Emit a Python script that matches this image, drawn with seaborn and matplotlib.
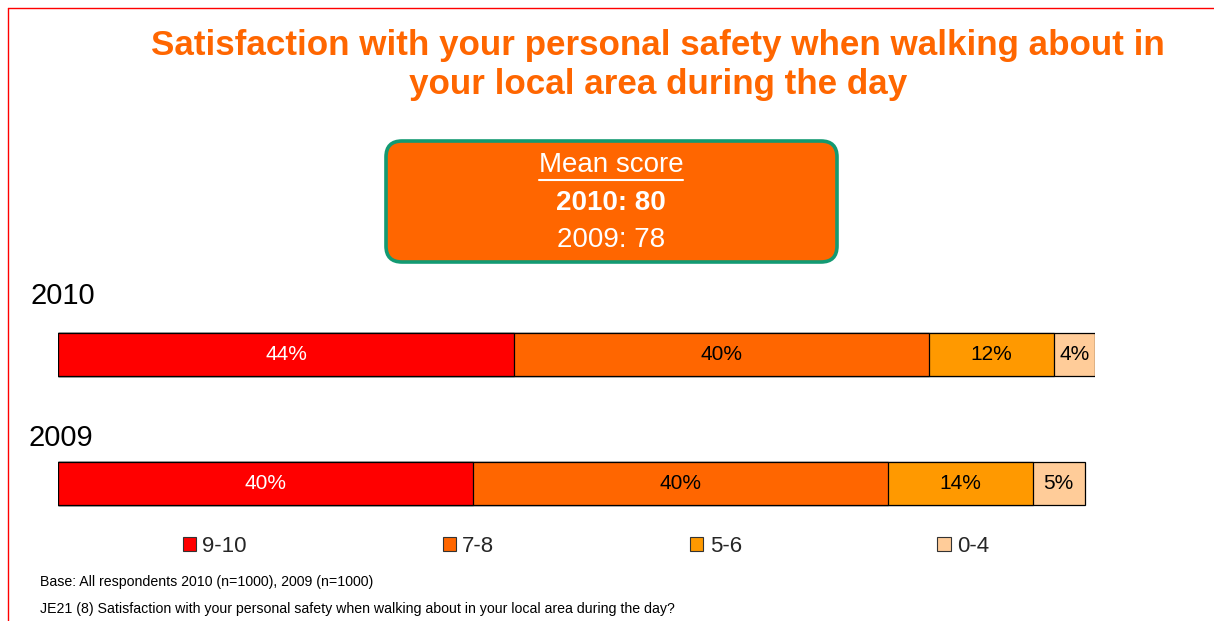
import numpy as np
import pandas as pd
import matplotlib
matplotlib.use('Agg')
import matplotlib.pyplot as plt
from matplotlib.patches import FancyBboxPatch, Rectangle
from matplotlib.lines import Line2D
import seaborn as sns

# datos del grafico
years = ['2010', '2009']
score_bands = ['9-10', '7-8', '5-6', '0-4']
pct_9_10 = [44, 40]
pct_7_8 = [40, 40]
pct_5_6 = [12, 14]
pct_0_4 = [4, 5]
mean_2010 = 80
mean_2009 = 78

band_colors = ['#FF0000', '#FF6600', '#FF9900', '#FFCC99']
label_colors = ['white', 'black', 'black', 'black']
orange = '#FF6600'

sns.set_theme(style='white')
plt.rcParams['font.family'] = ['Liberation Sans', 'DejaVu Sans']

df = pd.DataFrame({'year': years, '9-10': pct_9_10, '7-8': pct_7_8,
                   '5-6': pct_5_6, '0-4': pct_0_4})
cum = df[score_bands].cumsum(axis=1)

W, H = 1214, 621
fig = plt.figure(figsize=(W / 100, H / 100), dpi=100)
fig.patch.set_facecolor('white')

# capa de texto en pixeles
over = fig.add_axes([0, 0, 1, 1])
over.set_xlim(0, W)
over.set_ylim(H, 0)
over.axis('off')

# barras apiladas
ax = fig.add_axes([58 / W, (H - 535) / H, 1037 / W, 232 / H])
for k in reversed(range(len(score_bands))):
    sns.barplot(x=cum[score_bands[k]], y=df['year'], color=band_colors[k],
                saturation=1, edgecolor='black', linewidth=0.9, width=0.333,
                errorbar=None, orient='h', ax=ax)
ax.set_xlim(0, 100)
ax.set_ylim(1.4, -0.4)
ax.axis('off')

for i, yr in enumerate(years):
    left = 0
    for k, band in enumerate(score_bands):
        w = df.loc[i, band]
        ax.text(left + w / 2, i, f'{w}%', ha='center', va='center',
                fontsize=15, color=label_colors[k])
        left += w

# etiquetas de año
over.text(30, 296, years[0], fontsize=21, ha='left', va='center', color='black')
over.text(28, 438, years[1], fontsize=21, ha='left', va='center', color='black')

# titulo
over.text(658, 65, 'Satisfaction with your personal safety when walking about in\n'
          'your local area during the day', ha='center', va='center',
          fontsize=25.2, fontweight='bold', color=orange, linespacing=1.22)

# cuadro de media
box = FancyBboxPatch((386, 141), 451, 121,
                     boxstyle='round,pad=0,rounding_size=16',
                     facecolor=orange, edgecolor='#139A72', linewidth=2.6)
over.add_patch(box)
t_mean = over.text(611, 165, 'Mean score', ha='center', va='center',
                   fontsize=20, color='white')
over.text(611, 203, f'2010: {mean_2010}', ha='center', va='center',
          fontsize=20, fontweight='bold', color='white')
over.text(611, 240, f'2009: {mean_2009}', ha='center', va='center',
          fontsize=20, color='white')
fig.canvas.draw()
bb = t_mean.get_window_extent()
over.add_line(Line2D([bb.x0, bb.x1], [180, 180], color='white', linewidth=1.5))

# leyenda
handles = [Rectangle((0, 0), 1, 1, facecolor=c, edgecolor='#333333', linewidth=0.8)
           for c in band_colors]
fig.legend(handles, score_bands, loc='center', bbox_to_anchor=(586 / W, 1 - 546 / H),
           ncol=4, frameon=False, fontsize=16, handlelength=0.59, handleheight=0.59,
           handletextpad=0.3, columnspacing=8.8, borderpad=0)

# notas
over.text(40, 582, 'Base: All respondents 2010 (n=1000), 2009 (n=1000)',
          fontsize=10.2, ha='left', va='center', color='black')
over.text(40, 609, 'JE21 (8) Satisfaction with your personal safety when walking '
          'about in your local area during the day?',
          fontsize=10.2, ha='left', va='center', color='black')

# marco rojo
over.add_line(Line2D([7.5, 7.5], [7.5, H], color='red', linewidth=1))
over.add_line(Line2D([7.5, W], [7.5, 7.5], color='red', linewidth=1))

fig.savefig('out.png', dpi=100)
